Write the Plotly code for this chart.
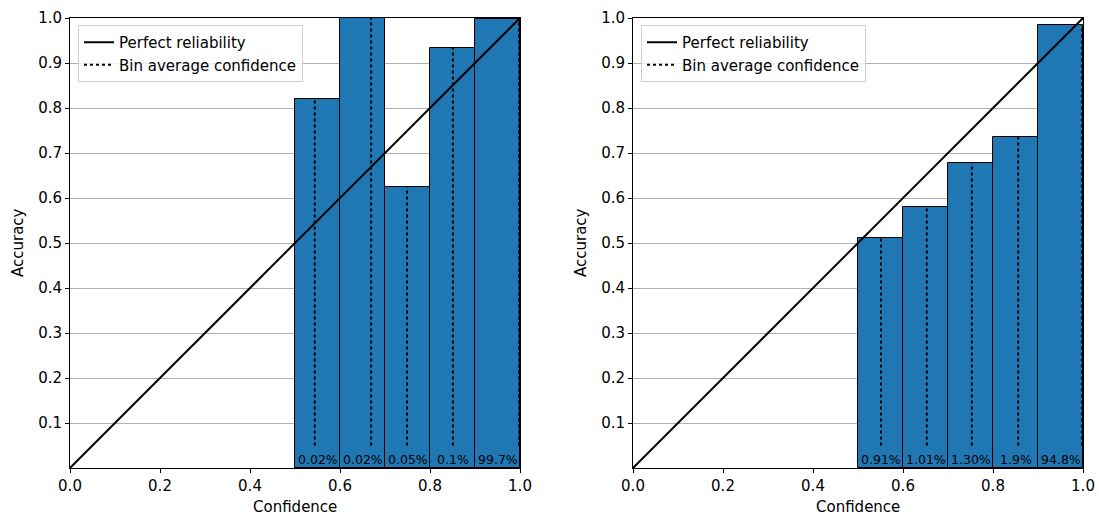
import plotly.graph_objects as go

# ---- data ----
bin_lefts = [0.5, 0.6, 0.7, 0.8, 0.9]
bin_width = 0.1

acc_left = [0.82, 1.0, 0.624, 0.934, 0.997]
conf_left = [0.544, 0.669, 0.749, 0.851, 0.998]
pct_left = ["0.02%", "0.02%", "0.05%", "0.1%", "99.7%"]

acc_right = [0.511, 0.58, 0.677, 0.735, 0.984]
conf_right = [0.551, 0.653, 0.753, 0.856, 0.998]
pct_right = ["0.91%", "1.01%", "1.30%", "1.9%", "94.8%"]

x_ticks = [0.0, 0.2, 0.4, 0.6, 0.8, 1.0]
y_ticks = [0.1, 0.2, 0.3, 0.4, 0.5, 0.6, 0.7, 0.8, 0.9, 1.0]

BLUE = "#1f77b4"
FONT = "DejaVu Sans"
W, H = 1099, 518

fig = go.Figure()

panels = [
    (acc_left, conf_left, pct_left, "x", "y", "legend", [70 / W, 520 / W]),
    (acc_right, conf_right, pct_right, "x2", "y2", "legend2", [633 / W, 1083 / W]),
]

y_dom = [1 - 468 / H, 1 - 18 / H]
annotations = []

for acc, conf, pct, xa, ya, lg, xdom in panels:
    centers = [b + bin_width / 2 for b in bin_lefts]
    fig.add_trace(go.Bar(
        x=centers, y=acc, width=bin_width, xaxis=xa, yaxis=ya,
        marker=dict(color=BLUE, line=dict(color="black", width=1)),
        showlegend=False, hoverinfo="skip",
    ))
    dx, dy = [], []
    for c, a in zip(conf, acc):
        dx += [c, c, None]
        dy += [0.05, a, None]
    fig.add_trace(go.Scatter(
        x=dx, y=dy, mode="lines", xaxis=xa, yaxis=ya,
        line=dict(color="black", width=2, dash="dot"),
        name="Bin average confidence", legend=lg, legendrank=2,
    ))
    fig.add_trace(go.Scatter(
        x=[0, 1], y=[0, 1], mode="lines", xaxis=xa, yaxis=ya,
        line=dict(color="black", width=2),
        name="Perfect reliability", legend=lg, legendrank=1,
    ))
    for cx, t in zip(centers, pct):
        annotations.append(dict(
            x=cx, y=0.018, xref=xa, yref=ya, text=t, showarrow=False,
            font=dict(size=12.5, color="black", family=FONT),
            xanchor="center", yanchor="middle",
        ))
    xc = (xdom[0] + xdom[1]) / 2
    annotations.append(dict(
        x=xc, y=1 - 507 / H, xref="paper", yref="paper", text="Confidence",
        showarrow=False, font=dict(size=15, color="black", family=FONT),
        xanchor="center", yanchor="middle",
    ))
    annotations.append(dict(
        x=xdom[0] - 52 / W, y=1 - 243 / H, xref="paper", yref="paper", text="Accuracy",
        showarrow=False, textangle=-90, font=dict(size=15, color="black", family=FONT),
        xanchor="center", yanchor="middle",
    ))

axis_common = dict(
    range=[0, 1], showline=True, linecolor="black", linewidth=1, mirror=True,
    ticks="outside", ticklen=4, tickcolor="black", zeroline=False, automargin=False,
    tickfont=dict(size=15, color="black", family=FONT),
)

legend_common = dict(
    xanchor="left", yanchor="top", bgcolor="rgba(255,255,255,0.8)",
    bordercolor="#d0d0d0", borderwidth=1,
    font=dict(size=15, family=FONT, color="black"), tracegroupgap=0,
)

fig.update_layout(
    width=W, height=H,
    margin=dict(l=0, r=0, t=0, b=0),
    paper_bgcolor="white", plot_bgcolor="white",
    font=dict(family=FONT, color="black"),
    bargap=0,
    annotations=annotations,
    xaxis=dict(domain=[70 / W, 520 / W], anchor="y", tickvals=x_ticks,
               ticktext=[f"{v:.1f}" for v in x_ticks], showgrid=False, **axis_common),
    yaxis=dict(domain=y_dom, anchor="x", tickvals=y_ticks,
               ticktext=[f"{v:.1f}" for v in y_ticks], showgrid=True,
               gridcolor="#b0b0b0", gridwidth=1, **axis_common),
    xaxis2=dict(domain=[633 / W, 1083 / W], anchor="y2", tickvals=x_ticks,
                ticktext=[f"{v:.1f}" for v in x_ticks], showgrid=False, **axis_common),
    yaxis2=dict(domain=y_dom, anchor="x2", tickvals=y_ticks,
                ticktext=[f"{v:.1f}" for v in y_ticks], showgrid=True,
                gridcolor="#b0b0b0", gridwidth=1, **axis_common),
    legend=dict(x=78 / W, y=1 - 25 / H, **legend_common),
    legend2=dict(x=641 / W, y=1 - 25 / H, **legend_common),
)

fig.write_html("out.html")
